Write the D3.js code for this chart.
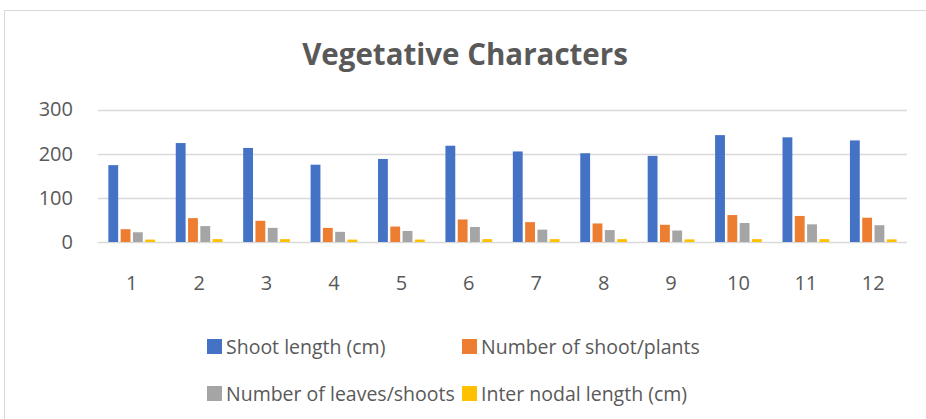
<!DOCTYPE html>
<html>
<head>
<meta charset="utf-8">
<script src="https://cdn.jsdelivr.net/npm/d3@7"></script>
<style>
  html, body { margin: 0; padding: 0; background: #fff; }
  svg { display: block; }
  text { font-family: "Open Sans", sans-serif; fill: #595959; }
</style>
</head>
<body>
<svg id="chart" width="926" height="419"></svg>
<script>
const title = "Vegetative Characters";
const categories = ["1","2","3","4","5","6","7","8","9","10","11","12"];
const seriesNames = ["Shoot length (cm)", "Number of shoot/plants", "Number of leaves/shoots", "Inter nodal length (cm)"];
const seriesColors = ["#4472C4", "#ED7D31", "#A5A5A5", "#FFC000"];
const shootLength   = [174, 224, 213, 175, 188, 218, 205, 201, 195, 242, 237, 230];
const shootsPerPlant = [29, 54, 48, 32, 35, 51, 45, 42, 39, 61, 59, 55];
const leavesPerShoot = [22, 36, 32, 23, 25, 34, 28, 27, 26, 43, 40, 38];
const internodal    = [5.5, 6.5, 6.5, 5.5, 5.5, 6.5, 6.5, 6.5, 6, 6.5, 6.5, 6];
const yTicks = [0, 100, 200, 300];

const seriesValues = [shootLength, shootsPerPlant, leavesPerShoot, internodal];

const svg = d3.select("#chart");

// chart border
svg.append("rect")
  .attr("x", 4.5).attr("y", 10.5)
  .attr("width", 940).attr("height", 440)
  .attr("fill", "none").attr("stroke", "#D9D9D9").attr("stroke-width", 1);

const plot = { left: 98, right: 907, top: 109.5, bottom: 242 };

const x0 = d3.scaleBand().domain(categories)
  .range([plot.left, plot.right]).paddingInner(0.307).paddingOuter(0.1535);
const x1 = d3.scaleBand().domain(d3.range(seriesNames.length))
  .range([0, x0.bandwidth()]).paddingInner(0.2).paddingOuter(0);
const y = d3.scaleLinear().domain([0, 300]).range([plot.bottom, plot.top]);

// gridlines
svg.append("g").selectAll("line").data(yTicks).join("line")
  .attr("x1", plot.left).attr("x2", plot.right)
  .attr("y1", d => Math.round(y(d)) + 0.5).attr("y2", d => Math.round(y(d)) + 0.5)
  .attr("stroke", "#D9D9D9").attr("stroke-width", 1.3);

// y axis labels
const yAxis = d3.axisLeft(y).tickValues(yTicks).tickSize(0).tickPadding(25);
const gy = svg.append("g").attr("transform", `translate(${plot.left},0)`).call(yAxis);
gy.select(".domain").remove();
gy.selectAll("text").style("font-size", "20px").attr("fill", "#595959")
  .style("font-family", "'Open Sans', sans-serif");

// x axis labels
const xAxis = d3.axisBottom(x0).tickSize(0).tickPadding(0);
const gx = svg.append("g").attr("transform", `translate(0,${plot.bottom})`).call(xAxis);
gx.select(".domain").remove();
gx.selectAll("text").style("font-size", "20px").attr("fill", "#595959")
  .style("font-family", "'Open Sans', sans-serif")
  .attr("dy", null).attr("y", 48);

// bars
const groups = svg.append("g").selectAll("g").data(categories).join("g")
  .attr("transform", d => `translate(${x0(d)},0)`);
groups.selectAll("rect")
  .data((c, i) => seriesValues.map((vals, s) => ({ s, v: vals[i] })))
  .join("rect")
  .attr("x", d => x1(d.s))
  .attr("width", x1.bandwidth())
  .attr("y", d => y(d.v))
  .attr("height", d => y(0) - y(d.v))
  .attr("fill", d => seriesColors[d.s]);

// title
svg.append("text")
  .attr("x", 465).attr("y", 65)
  .attr("text-anchor", "middle")
  .style("font-size", "29.5px").style("font-weight", "bold")
  .text(title);

// legend
const legendPos = [
  { x: 207, y: 354 }, { x: 462, y: 354 },
  { x: 207, y: 401 }, { x: 462, y: 401 }
];
const lg = svg.append("g").selectAll("g").data(seriesNames).join("g")
  .attr("transform", (d, i) => `translate(${legendPos[i].x},${legendPos[i].y})`);
lg.append("rect").attr("x", 0).attr("y", -15).attr("width", 15).attr("height", 15)
  .attr("fill", (d, i) => seriesColors[i]);
lg.append("text").attr("x", 19).attr("y", 0)
  .style("font-size", "19.5px").text(d => d);
</script>
</body>
</html>
